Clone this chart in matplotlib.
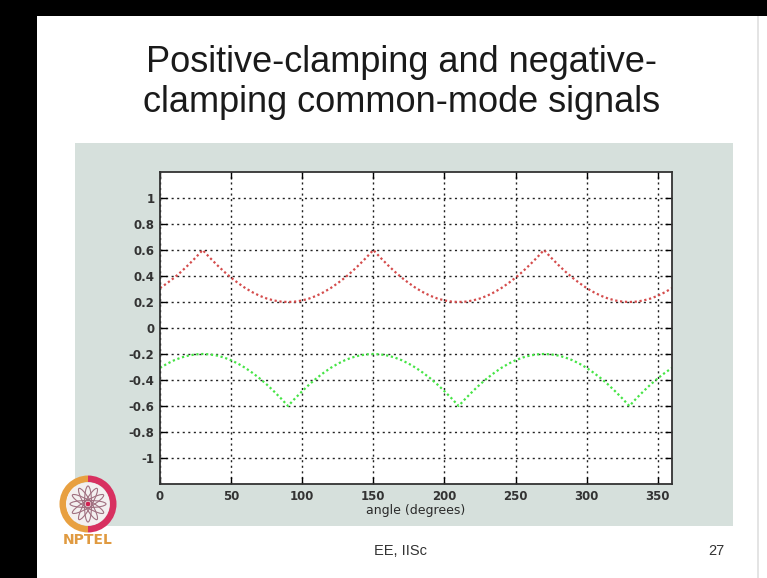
import matplotlib
matplotlib.use("Agg")
import matplotlib.pyplot as plt
from matplotlib.patches import Rectangle, Ellipse, Wedge, Circle

plt.rcParams['font.family'] = ['Liberation Sans', 'DejaVu Sans']

# ---- data ----
angle = [0, 5, 10, 15, 20, 25, 30, 35, 40, 45, 50, 55, 60, 65, 70, 75, 80, 85, 90, 95,
         100, 105, 110, 115, 120, 125, 130, 135, 140, 145, 150, 155, 160, 165, 170, 175,
         180, 185, 190, 195, 200, 205, 210, 215, 220, 225, 230, 235, 240, 245, 250, 255,
         260, 265, 270, 275, 280, 285, 290, 295, 300, 305, 310, 315, 320, 325, 330, 335,
         340, 345, 350, 355, 360]

positive_clamp = [0.307, 0.345, 0.387, 0.434, 0.486, 0.541, 0.600, 0.541, 0.486, 0.434,
                  0.387, 0.345, 0.307, 0.275, 0.248, 0.227, 0.212, 0.203, 0.200, 0.203,
                  0.212, 0.227, 0.248, 0.275,
                  0.307, 0.345, 0.387, 0.434, 0.486, 0.541, 0.600, 0.541, 0.486, 0.434,
                  0.387, 0.345, 0.307, 0.275, 0.248, 0.227, 0.212, 0.203, 0.200, 0.203,
                  0.212, 0.227, 0.248, 0.275,
                  0.307, 0.345, 0.387, 0.434, 0.486, 0.541, 0.600, 0.541, 0.486, 0.434,
                  0.387, 0.345, 0.307, 0.275, 0.248, 0.227, 0.212, 0.203, 0.200, 0.203,
                  0.212, 0.227, 0.248, 0.275, 0.307]

negative_clamp = [-0.307, -0.275, -0.248, -0.227, -0.212, -0.203, -0.200, -0.203, -0.212,
                  -0.227, -0.248, -0.275, -0.307, -0.345, -0.387, -0.434, -0.486, -0.541,
                  -0.600, -0.541, -0.486, -0.434, -0.387, -0.345,
                  -0.307, -0.275, -0.248, -0.227, -0.212, -0.203, -0.200, -0.203, -0.212,
                  -0.227, -0.248, -0.275, -0.307, -0.345, -0.387, -0.434, -0.486, -0.541,
                  -0.600, -0.541, -0.486, -0.434, -0.387, -0.345,
                  -0.307, -0.275, -0.248, -0.227, -0.212, -0.203, -0.200, -0.203, -0.212,
                  -0.227, -0.248, -0.275, -0.307, -0.345, -0.387, -0.434, -0.486, -0.541,
                  -0.600, -0.541, -0.486, -0.434, -0.387, -0.345, -0.307]

x_ticks = [0, 50, 100, 150, 200, 250, 300, 350]
y_ticks = [-1, -0.8, -0.6, -0.4, -0.2, 0, 0.2, 0.4, 0.6, 0.8, 1]
y_ticklabels = ['-1', '-0.8', '-0.6', '-0.4', '-0.2', '0', '0.2', '0.4', '0.6', '0.8', '1']

title_lines = ["Positive-clamping and negative-", "clamping common-mode signals"]
x_label = "angle (degrees)"
footer_left = "EE, IISc"
footer_right = "27"

# ---- figure ----
W, H = 767, 578
fig = plt.figure(figsize=(W / 100, H / 100), dpi=100)
fig.patch.set_facecolor('white')

def fx(px):
    return px / W

def fy(py):
    return 1 - py / H

# black screen borders
fig.patches.append(Rectangle((0, 0), fx(37), 1, transform=fig.transFigure,
                             facecolor='black', edgecolor='none', zorder=-10))
fig.patches.append(Rectangle((0, fy(16)), 1, 16 / H, transform=fig.transFigure,
                             facecolor='black', edgecolor='none', zorder=-10))
# faint right slide edge
fig.patches.append(Rectangle((fx(757), 0), 2 / W, fy(16), transform=fig.transFigure,
                             facecolor='#e4e4e4', edgecolor='none', zorder=-10))

# grey panel behind the plot
fig.patches.append(Rectangle((fx(75), fy(526)), (733 - 75) / W, (526 - 143) / H,
                             transform=fig.transFigure, facecolor='#d6e0dc',
                             edgecolor='none', zorder=-9))

# title
fig.text(fx(402), fy(63), title_lines[0], ha='center', va='center',
         fontsize=26, color='#1a1a1a')
fig.text(fx(402), fy(103), title_lines[1], ha='center', va='center',
         fontsize=26, color='#1a1a1a')

# footer
fig.text(fx(400), fy(551), footer_left, ha='center', va='center', fontsize=10.5,
         color='#333333')
fig.text(fx(716), fy(551), footer_right, ha='center', va='center', fontsize=10.5,
         color='#333333')

# axes
ax = fig.add_axes([fx(160), fy(484), (672 - 160) / W, (484 - 172) / H])
ax.set_zorder(2)
ax.set_facecolor('white')
ax.plot(angle, positive_clamp, linestyle=(0, (1, 1.2)), color='#d44c4c', linewidth=1.6)
ax.plot(angle, negative_clamp, linestyle=(0, (1, 1.2)), color='#46e446', linewidth=1.6)
ax.set_xlim(0, 360)
ax.set_ylim(-1.2, 1.2)
ax.set_xticks(x_ticks)
ax.set_yticks(y_ticks)
ax.set_yticklabels(y_ticklabels)
ax.grid(True, color='#222222', linestyle=(0, (1.5, 2.5)), linewidth=1.0)
ax.tick_params(direction='in', top=True, right=True, length=5, width=1.0,
               labelsize=8.5, labelcolor='#333333')
ax.tick_params(axis='y', pad=4)
ax.tick_params(axis='x', pad=4)
for lab in ax.get_xticklabels() + ax.get_yticklabels():
    lab.set_fontweight('bold')
    lab.set_fontfamily('DejaVu Sans')
for s in ax.spines.values():
    s.set_linewidth(1.3)
    s.set_color('#333333')
ax.set_xlabel(x_label, fontsize=9, color='#2a2a2a', labelpad=1, family='DejaVu Sans')

# NPTEL logo (approximation)
ax_logo = fig.add_axes([fx(58), fy(535), 60 / W, 62 / H])
ax_logo.set_zorder(3)
ax_logo.set_xlim(-1, 1)
ax_logo.set_ylim(-1, 1)
ax_logo.set_aspect('equal')
ax_logo.axis('off')
ax_logo.add_patch(Wedge((0, 0), 0.95, 90, 270, width=0.22, facecolor='#e8a040',
                        edgecolor='none'))
ax_logo.add_patch(Wedge((0, 0), 0.95, 270, 90, width=0.22, facecolor='#d83060',
                        edgecolor='none'))
ax_logo.add_patch(Circle((0, 0), 0.72, facecolor='#f4f0f0', edgecolor='none'))
for ang in range(0, 180, 30):
    ax_logo.add_patch(Ellipse((0, 0), 1.2, 0.24, angle=ang, facecolor='none',
                              edgecolor='#a07080', linewidth=0.8))
ax_logo.add_patch(Circle((0, 0), 0.08, facecolor='#d02050', edgecolor='none'))
fig.text(fx(88), fy(540), "NPTEL", ha='center', va='center', fontsize=10,
         fontweight='bold', color='#e09a40', zorder=5, family='DejaVu Sans')

fig.savefig('out.png', dpi=100)
